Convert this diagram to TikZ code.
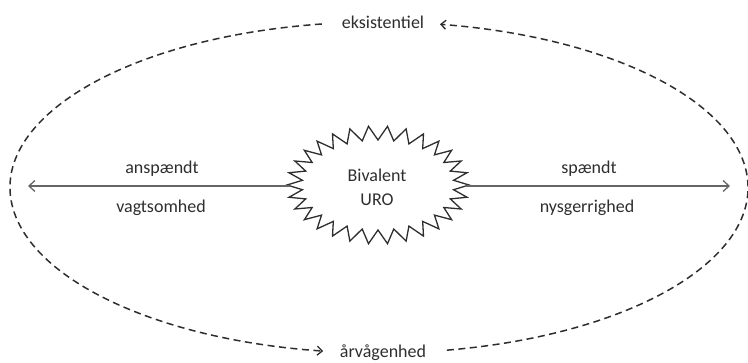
\documentclass[tikz,border=0pt]{standalone}
\usepackage{fontspec}
\setmainfont{Carlito}
\usetikzlibrary{arrows.meta}
\definecolor{inkgray}{HTML}{2E2E2E}
\definecolor{linegray}{HTML}{666666}
\tikzset{
  x=1pt, y=1pt,
  lbl/.style={font=\fontsize{18}{22}\selectfont, text=inkgray, inner sep=0pt},
  cycleline/.style={draw=inkgray, line width=1.5pt, dash pattern=on 7pt off 4.5pt,
    -{Straight Barb[length=5pt,width=9pt,line width=1.3pt]}},
  axisline/.style={draw=linegray, line width=1.5pt,
    -{Straight Barb[length=6pt,width=11pt,line width=1.3pt]}},
  burst/.style={draw=inkgray, line width=1.3pt, line join=miter}
}
\begin{document}
\begin{tikzpicture}
\useasboundingbox (0,0) rectangle (748,362);

% centre of the outer cycle
\coordinate (c) at (379,174.5);

% labels on the outer cycle
\node[lbl] (eks) at (383,340) {eksistentiel};
\node[lbl] (arv) at (383,9) {årvågenhed};

% end points of the two dashed arcs
\coordinate (eksR) at ([shift={(80.5:369 and 165.5)}]c);
\coordinate (eksL) at ([shift={(98.9:369 and 165.5)}]c);
\coordinate (arvL) at ([shift={(261.3:369 and 165.5)}]c);
\coordinate (arvR) at ([shift={(-79.4:369 and 165.5)}]c);

\draw[cycleline] (arvR) arc[start angle=-79.4, end angle=80.5, x radius=369, y radius=165.5];
\draw[cycleline] (eksL) arc[start angle=98.9, end angle=261.3, x radius=369, y radius=165.5];

% central starburst
\coordinate (b) at (378,177);
\draw[burst] plot[samples at={0,...,59}, variable=\i]
  ({378+ifthenelse(mod(\i,2)==0,91,76)*cos(\i*6)},
   {177+ifthenelse(mod(\i,2)==0,59,45)*sin(\i*6)}) -- cycle;
\node[lbl, align=center, font=\fontsize{18}{24}\selectfont, minimum width=176pt, minimum height=20pt] (uro) at (377,175) {Bivalent\\URO};

% horizontal axis
\coordinate (axL) at (28,176);
\coordinate (axR) at (730,176);
\coordinate (uroW) at (290,176);
\coordinate (uroE) at (465,176);
\draw[axisline] (uroW) -- (axL);
\draw[axisline] (uroE) -- (axR);

% side labels
\node[lbl] (ansp) at (162,193) {anspændt};
\node[lbl] (vagt) at (161,154) {vagtsomhed};
\node[lbl] (spae) at (589,193) {spændt};
\node[lbl] (nysg) at (587,154) {nysgerrighed};
\end{tikzpicture}
\end{document}
